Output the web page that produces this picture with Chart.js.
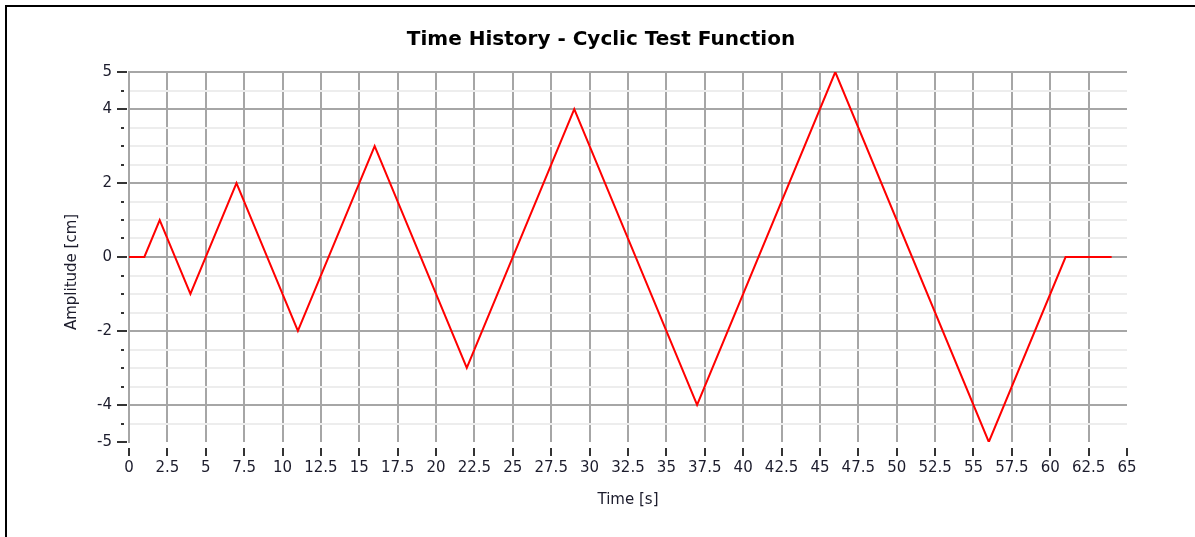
<!DOCTYPE html>
<html>
<head>
<meta charset="utf-8">
<title>Time History - Cyclic Test Function</title>
<script src="https://cdn.jsdelivr.net/npm/chart.js@4.4.1/dist/chart.umd.min.js"></script>
<style>
    body { margin: 0; background: #fff; }
    #chart { position: absolute; left: 0; top: 0; }
    #frame {
        position: absolute; left: 5px; top: 5px; width: 1300px; height: 700px;
        border-left: 2px solid #000; border-top: 2px solid #000;
        pointer-events: none;
    }
</style>
</head>
<body>
<canvas id="chart" width="1195" height="537"></canvas>
<div id="frame"></div>
<script>
// corner points of the cyclic test function
const timeS = [0, 1, 2, 4, 7, 11, 16, 22, 29, 37, 46, 56, 61, 64];
const amplitudeCm = [0, 0, 1, -1, 2, -2, 3, -3, 4, -4, 5, -5, 0, 0];

const xMin = 0;
const xMax = 65;
const xStep = 2.5;

const yTicks = [-5, -4.5, -4, -3.5, -3, -2.5, -2, -1.5, -1, -0.5, 0,
    0.5, 1, 1.5, 2, 2.5, 3, 3.5, 4, 4.5, 5];
const yLabelled = [-5, -4, -2, 0, 2, 4, 5];

const FONT = '"DejaVu Sans", sans-serif';
const MAJOR = '#a6a6a6';
const MINOR = '#ededed';
const TEXT = '#1c1c2c';

// short tick marks outside the plot, plus the rotated y title
const axisMarks = {
    id: 'axisMarks',
    afterDraw(chart) {
        const { ctx, scales: { x, y } } = chart;
        ctx.save();
        ctx.fillStyle = '#333';
        for (const v of yTicks) {
            const py = Math.round(y.getPixelForValue(v));
            if (yLabelled.includes(v)) {
                ctx.fillRect(117, py - 1, 10, 2);
            } else {
                ctx.fillRect(121, py - 1, 3, 2);
            }
        }
        for (let v = xMin; v <= xMax; v += xStep) {
            const px = Math.round(x.getPixelForValue(v));
            ctx.fillRect(px - 1, 448, 2, 8);
        }

        ctx.fillStyle = TEXT;
        ctx.font = '15px ' + FONT;
        ctx.textAlign = 'center';
        ctx.textBaseline = 'middle';
        ctx.translate(72, 272);
        ctx.rotate(-Math.PI / 2);
        ctx.fillText('Amplitude [cm]', 0, 0);
        ctx.restore();
    },
};

new Chart(document.getElementById('chart'), {
    type: 'line',
    data: {
        datasets: [{
            data: timeS.map((t, i) => ({ x: t, y: amplitudeCm[i] })),
            borderColor: '#ff0000',
            borderWidth: 2,
            pointRadius: 0,
            tension: 0,
        }],
    },
    options: {
        responsive: false,
        animation: false,
        // left/right padding keeps the title centred on the whole frame
        layout: { padding: { top: 0, right: 68, bottom: 0, left: 75 } },
        plugins: {
            legend: { display: false },
            tooltip: { enabled: false },
            title: {
                display: true,
                text: 'Time History - Cyclic Test Function',
                color: '#000',
                font: { family: FONT, size: 20, weight: 'bold', lineHeight: 1.2 },
                padding: { top: 28, bottom: 20 },
            },
        },
        scales: {
            x: {
                type: 'linear',
                min: xMin,
                max: xMax,
                afterFit(scale) { scale.height = 95; },
                border: { display: false },
                grid: {
                    drawTicks: false,
                    lineWidth: 2,
                    color: (c) => (c.tick && c.tick.value === xMax ? 'rgba(0,0,0,0)' : MAJOR),
                },
                ticks: {
                    stepSize: xStep,
                    autoSkip: false,
                    maxRotation: 0,
                    padding: 17,
                    color: TEXT,
                    font: { family: FONT, size: 15 },
                },
                title: {
                    display: true,
                    text: 'Time [s]',
                    color: TEXT,
                    font: { family: FONT, size: 15, lineHeight: 1.2 },
                    padding: { top: 0, bottom: 28 },
                },
            },
            y: {
                min: -5,
                max: 5,
                afterFit(scale) { scale.width = 54; },
                afterBuildTicks(scale) {
                    scale.ticks = yTicks.map((v) => ({ value: v }));
                },
                border: { display: true, color: MAJOR, width: 2 },
                grid: {
                    drawTicks: false,
                    lineWidth: 2,
                    color: (c) => {
                        if (!c.tick || c.tick.value === -5) return 'rgba(0,0,0,0)';
                        return yLabelled.includes(c.tick.value) ? MAJOR : MINOR;
                    },
                },
                ticks: {
                    autoSkip: false,
                    padding: 17,
                    color: TEXT,
                    font: { family: FONT, size: 15 },
                    callback: (v) => (yLabelled.includes(v) ? String(v) : ''),
                },
            },
        },
    },
    plugins: [axisMarks],
});
</script>
</body>
</html>
